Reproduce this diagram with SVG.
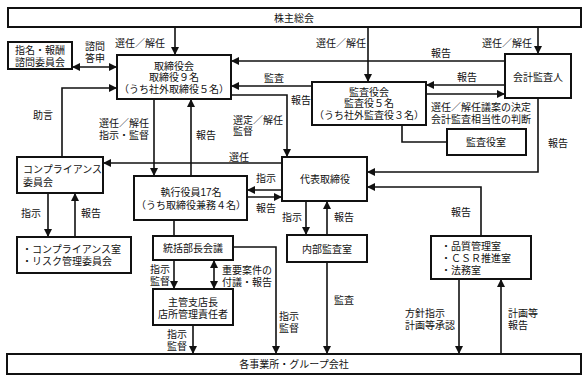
<svg xmlns="http://www.w3.org/2000/svg" width="588" height="381" viewBox="0 0 588 381">
<style>
text{font-family:"Liberation Sans","Noto Sans CJK JP",sans-serif;font-size:10px;fill:#111;dominant-baseline:central}
.c{text-anchor:middle}
.box{fill:#fff;stroke:#111;stroke-width:2}
.ln{fill:none;stroke:#111;stroke-width:1.6}
</style>
<defs>
<marker id="a" viewBox="0 0 10 10" refX="10" refY="5" markerWidth="8" markerHeight="8" markerUnits="userSpaceOnUse" orient="auto-start-reverse"><path d="M0,0L10,5L0,10z" fill="#111"/></marker>
</defs>
<rect width="588" height="381" fill="#fff"/>
<g id="connectors">
<path class="ln" d="M175,27V55" marker-end="url(#a)"/>
<path class="ln" d="M368,27V82" marker-end="url(#a)"/>
<path class="ln" d="M538,27V54" marker-end="url(#a)"/>
<path class="ln" d="M72,67H117" marker-start="url(#a)" marker-end="url(#a)"/>
<path class="ln" d="M505,61H231" marker-end="url(#a)"/>
<path class="ln" d="M312,86H231" marker-end="url(#a)"/>
<path class="ln" d="M505,85H426" marker-end="url(#a)"/>
<path class="ln" d="M426,94H505" marker-end="url(#a)"/>
<path class="ln" d="M402,125V142H447"/>
<path class="ln" d="M231,95H287V157" marker-end="url(#a)"/>
<path class="ln" d="M62,157V88H117" marker-end="url(#a)"/>
<path class="ln" d="M154,99V176" marker-end="url(#a)"/>
<path class="ln" d="M191,176V99" marker-end="url(#a)"/>
<path class="ln" d="M282,163H103" marker-end="url(#a)"/>
<path class="ln" d="M282,190H247" marker-end="url(#a)"/>
<path class="ln" d="M247,197H282" marker-end="url(#a)"/>
<path class="ln" d="M538,98V172H367" marker-end="url(#a)"/>
<path class="ln" d="M481,236V187H367" marker-end="url(#a)"/>
<path class="ln" d="M306,201V235" marker-end="url(#a)"/>
<path class="ln" d="M327,235V201" marker-end="url(#a)"/>
<path class="ln" d="M327,262V354" marker-end="url(#a)"/>
<path class="ln" d="M48,193V237" marker-end="url(#a)"/>
<path class="ln" d="M75,237V193" marker-end="url(#a)"/>
<path class="ln" d="M174,220V236"/>
<path class="ln" d="M174,260V289" marker-end="url(#a)"/>
<path class="ln" d="M214,260V289" marker-start="url(#a)" marker-end="url(#a)"/>
<path class="ln" d="M233,247H276V354" marker-end="url(#a)"/>
<path class="ln" d="M193,325V354" marker-end="url(#a)"/>
<path class="ln" d="M459,279V354" marker-end="url(#a)"/>
<path class="ln" d="M501,354V279" marker-end="url(#a)"/>
</g>
<g id="labels">
<text class="c" x="140" y="43">選任／解任</text>
<text class="c" x="95" y="46">諮問</text>
<text class="c" x="95" y="58">答申</text>
<text class="c" x="341" y="43">選任／解任</text>
<text class="c" x="507" y="43">選任／解任</text>
<text class="c" x="441" y="53">報告</text>
<text class="c" x="274" y="78">監査</text>
<text class="c" x="467" y="77">報告</text>
<text x="431" y="107">選任／解任議案の決定</text>
<text x="431" y="119">会計監査相当性の判断</text>
<text class="c" x="301" y="100">報告</text>
<text class="c" x="43" y="115">助言</text>
<text class="c" x="124" y="123">選任／解任</text>
<text class="c" x="124" y="135">指示・監督</text>
<text class="c" x="206" y="135">報告</text>
<text x="233" y="120">選定／解任</text>
<text x="233" y="131">監督</text>
<text class="c" x="558" y="143">報告</text>
<text class="c" x="239" y="157">選任</text>
<text class="c" x="266" y="178">指示</text>
<text class="c" x="266" y="208">報告</text>
<text class="c" x="292" y="217">指示</text>
<text class="c" x="344" y="217">報告</text>
<text class="c" x="461" y="212">報告</text>
<text class="c" x="31" y="213">指示</text>
<text class="c" x="91" y="213">報告</text>
<text class="c" x="160" y="269">指示</text>
<text class="c" x="160" y="281">監督</text>
<text x="222" y="270">重要案件の</text>
<text x="222" y="282">付議・報告</text>
<text class="c" x="177" y="334">指示</text>
<text class="c" x="177" y="346">監督</text>
<text x="279" y="316">指示</text>
<text x="279" y="328">監督</text>
<text class="c" x="344" y="300">監査</text>
<text x="405" y="313">方針指示</text>
<text x="405" y="325">計画等承認</text>
<text x="508" y="313">計画等</text>
<text x="508" y="325">報告</text>
</g>
<g id="n-kabunushi"><rect class="box" x="8" y="8" width="573" height="19"/><text class="c" x="294" y="18">株主総会</text></g>
<g id="n-shimei"><rect class="box" x="8" y="42" width="64" height="27"/><text class="c" x="40" y="50.5">指名・報酬</text><text class="c" x="40" y="62">諮問委員会</text></g>
<g id="n-torishimariyakukai"><rect class="box" x="117" y="55" width="114" height="44"/><text class="c" x="174" y="66">取締役会</text><text class="c" x="174" y="77.5">取締役９名</text><text class="c" x="174" y="89">（うち社外取締役５名）</text></g>
<g id="n-kansayakukai"><rect class="box" x="312" y="82" width="114" height="43"/><text class="c" x="369" y="92">監査役会</text><text class="c" x="369" y="103.5">監査役５名</text><text class="c" x="369" y="115">（うち社外監査役３名）</text></g>
<g id="n-kaikei"><rect class="box" x="505" y="54" width="66" height="44"/><text class="c" x="538" y="77">会計監査人</text></g>
<g id="n-kansayakushitsu"><rect class="box" x="447" y="129" width="79" height="26"/><text class="c" x="486" y="142">監査役室</text></g>
<g id="n-compliance"><rect class="box" x="17" y="157" width="86" height="36"/><text x="23" y="169">コンプライアンス</text><text x="23" y="182">委員会</text></g>
<g id="n-daihyo"><rect class="box" x="282" y="157" width="85" height="44"/><text class="c" x="325" y="179">代表取締役</text></g>
<g id="n-shikkou"><rect class="box" x="134" y="176" width="113" height="44"/><text class="c" x="191" y="192">執行役員17名</text><text class="c" x="191" y="205">（うち取締役兼務４名）</text></g>
<g id="n-compliance-shitsu"><rect class="box" x="17" y="237" width="114" height="36"/><text x="22" y="249">・コンプライアンス室</text><text x="22" y="261">・リスク管理委員会</text></g>
<g id="n-toukatsu"><rect class="box" x="153" y="236" width="80" height="24"/><text class="c" x="193" y="248">統括部長会議</text></g>
<g id="n-naibu"><rect class="box" x="287" y="235" width="80" height="27"/><text class="c" x="327" y="249">内部監査室</text></g>
<g id="n-hinshitsu"><rect class="box" x="431" y="236" width="100" height="43"/><text x="441" y="246">・品質管理室</text><text x="441" y="258">・ＣＳＲ推進室</text><text x="441" y="270">・法務室</text></g>
<g id="n-shukan"><rect class="box" x="153" y="289" width="80" height="36"/><text class="c" x="193" y="302">主管支店長</text><text class="c" x="193" y="314">店所管理責任者</text></g>
<g id="n-jigyousho"><rect class="box" x="7" y="354" width="574" height="20"/><text class="c" x="294" y="364">各事業所・グループ会社</text></g>
</svg>
